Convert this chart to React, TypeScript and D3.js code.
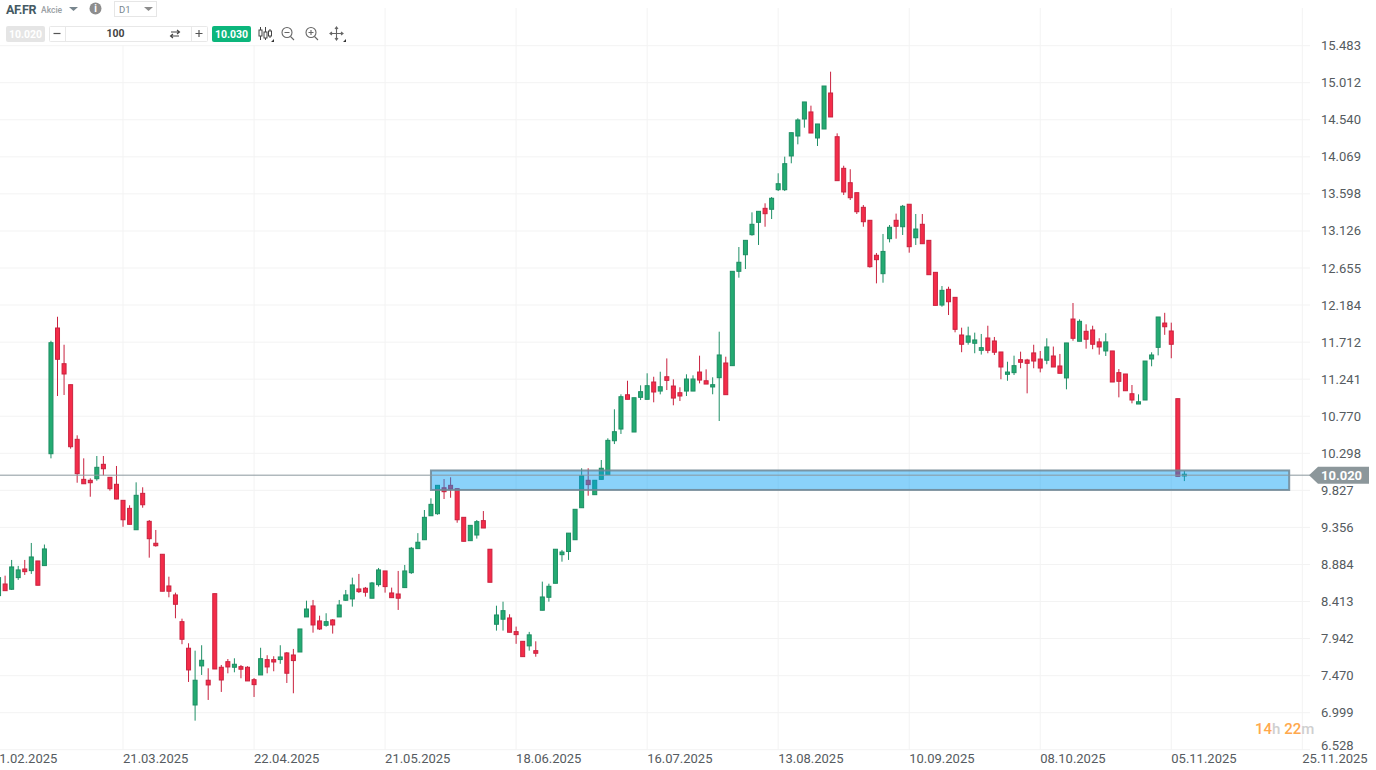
import React from "react";
import * as d3 from "d3";

const opens = [
  8.488,8.636,8.569,8.717,8.827,8.806,8.929,8.870,10.293,11.892,
  11.438,11.171,10.476,9.967,9.955,9.975,10.158,9.993,9.904,9.700,
  9.598,9.326,9.789,9.433,9.154,9.014,8.611,8.497,8.157,7.819,
  7.097,7.594,7.412,8.513,7.577,7.648,7.577,7.585,7.577,7.419,
  7.479,7.674,7.674,7.675,7.759,7.733,7.771,8.217,8.357,8.166,
  8.111,8.179,8.217,8.429,8.446,8.573,8.582,8.455,8.628,8.802,
  8.522,8.509,8.590,8.780,9.086,9.199,9.504,9.530,9.860,9.891,
  9.848,9.484,9.187,9.259,9.442,9.078,8.124,8.188,8.204,8.030,
  7.907,7.849,7.788,8.302,8.467,8.645,9.009,9.049,9.199,9.606,
  9.955,9.772,9.967,10.026,10.458,10.607,11.043,10.569,11.010,10.985,
  11.205,11.090,11.272,11.154,11.069,11.090,11.090,11.332,11.221,11.142,
  11.260,11.447,11.413,12.613,12.824,13.079,13.236,13.414,13.402,13.651,
  13.651,14.080,14.334,14.550,14.640,14.309,14.423,14.881,14.325,13.923,
  13.740,13.613,13.427,13.262,12.817,12.583,13.028,13.262,13.180,13.466,
  13.040,13.211,13.007,12.600,12.184,12.384,12.282,11.803,11.711,11.698,
  11.608,11.765,11.727,11.587,11.303,11.324,11.489,11.485,11.575,11.497,
  11.482,11.536,11.409,11.257,12.006,11.723,11.850,11.867,11.715,11.600,
  11.600,11.324,11.307,11.056,10.925,10.976,11.498,11.646,11.955,11.854,10.993,10.010,
];
const highs = [
  8.74,8.742,8.942,8.866,8.942,9.158,8.929,9.138,11.730,12.035,
  11.679,11.171,10.527,10.234,9.980,10.264,10.264,9.993,10.137,9.700,
  9.637,9.929,9.866,9.450,9.323,9.014,8.729,8.526,8.195,7.882,
  7.788,7.857,7.564,8.513,7.606,7.682,7.691,7.606,7.590,7.44,
  7.825,7.730,7.717,7.857,7.77,7.810,8.064,8.424,8.433,8.233,
  8.264,8.19,8.433,8.560,8.717,8.764,8.598,8.662,8.840,8.802,
  8.590,8.802,8.878,9.107,9.283,9.577,9.726,9.891,9.971,9.993,
  9.848,9.484,9.382,9.45,9.564,9.078,8.360,8.411,8.251,8.094,
  7.907,8.027,7.907,8.666,8.640,9.078,9.069,9.283,9.586,10.108,
  10.108,9.955,10.213,10.489,10.858,11.048,11.221,11.005,11.163,11.316,
  11.272,11.336,11.505,11.239,11.138,11.303,11.290,11.540,11.366,11.265,
  11.845,11.527,12.613,12.922,13.007,13.363,13.376,13.478,13.558,13.860,
  14.071,14.376,14.559,14.767,14.720,14.487,14.970,15.152,14.368,13.956,
  13.911,13.613,13.456,13.262,12.846,13.088,13.202,13.347,13.457,13.466,
  13.342,13.342,13.007,12.600,12.426,12.417,12.282,11.896,11.909,11.833,
  11.816,11.921,11.778,11.587,11.463,11.540,11.591,11.50,11.679,11.600,
  11.761,11.656,11.562,11.702,12.210,12.002,11.939,11.921,11.762,11.826,
  11.600,11.370,11.307,11.167,11.048,11.472,11.583,12.032,12.085,11.960,10.993,10.073,
];
const lows = [
  8.46,8.551,8.56,8.688,8.751,8.764,8.620,8.870,10.234,11.027,
  11.040,10.357,9.924,9.911,9.746,9.950,10.018,9.823,9.713,9.364,
  9.395,9.326,9.606,8.971,9.111,8.544,8.467,8.200,7.870,7.390,
  6.898,7.479,7.161,7.555,7.263,7.500,7.513,7.437,7.403,7.199,
  7.479,7.500,7.526,7.621,7.377,7.246,7.771,8.217,8.017,8.051,
  8.094,8.005,8.217,8.42,8.348,8.522,8.475,8.455,8.603,8.526,
  8.462,8.306,8.590,8.764,9.086,9.199,9.504,9.517,9.717,9.733,
  9.415,9.179,9.187,9.213,9.348,8.658,8.043,8.043,8.022,7.875,
  7.712,7.788,7.711,8.302,8.411,8.645,8.920,8.942,9.199,9.606,
  9.759,9.772,9.967,10.026,10.416,10.544,10.985,10.569,10.976,10.985,
  10.947,11.048,11.103,10.909,10.963,11.027,11.090,11.188,11.179,11.049,
  10.709,11.044,11.413,12.532,12.642,13.066,12.948,13.180,13.278,13.634,
  13.634,13.987,14.228,14.440,14.372,14.207,14.423,14.576,13.766,13.584,
  13.520,13.342,13.180,12.659,12.460,12.468,12.981,13.028,13.075,12.850,
  12.948,12.964,12.570,12.180,12.163,12.057,11.837,11.584,11.68,11.571,
  11.554,11.571,11.549,11.240,11.221,11.294,11.380,11.061,11.380,11.328,
  11.431,11.396,11.316,11.112,11.730,11.723,11.629,11.622,11.553,11.536,
  11.205,11.010,11.094,10.934,10.925,10.976,11.405,11.544,11.805,11.507,10.006,9.945,
];
const closes = [
  8.717,8.551,8.853,8.815,8.793,8.980,8.620,9.082,11.705,11.494,
  11.307,10.382,10.039,9.911,9.924,10.120,10.102,9.848,9.717,9.453,
  9.395,9.764,9.644,9.212,9.123,8.544,8.544,8.378,7.933,7.543,
  7.412,7.666,7.352,7.555,7.415,7.581,7.615,7.552,7.403,7.356,
  7.686,7.581,7.644,7.708,7.501,7.662,8.064,8.318,8.115,8.064,
  8.157,8.115,8.369,8.497,8.624,8.539,8.531,8.649,8.815,8.603,
  8.462,8.455,8.802,9.091,9.167,9.484,9.649,9.891,9.810,9.844,
  9.453,9.179,9.382,9.429,9.348,8.658,8.242,8.297,8.022,7.992,
  7.712,7.989,7.755,8.471,8.607,9.078,9.043,9.283,9.586,10.013,
  9.900,9.955,10.108,10.463,10.573,11.018,10.985,11.005,11.082,11.158,
  11.078,11.145,11.226,11.001,11.027,11.243,11.243,11.230,11.179,11.171,
  11.549,11.044,12.613,12.728,13.007,13.211,13.376,13.346,13.542,13.727,
  13.982,14.376,14.538,14.767,14.372,14.487,14.970,14.576,13.766,13.622,
  13.549,13.371,13.244,12.672,12.761,12.866,13.173,13.186,13.440,12.926,
  13.151,12.964,12.570,12.180,12.371,12.226,11.875,11.685,11.791,11.740,
  11.642,11.608,11.584,11.396,11.332,11.413,11.456,11.443,11.472,11.383,
  11.651,11.396,11.316,11.702,11.761,11.977,11.749,11.685,11.651,11.715,
  11.205,11.214,11.094,10.976,10.954,11.472,11.549,12.032,11.908,11.685,10.006,10.032,
];
const priceTicks = [15.483,15.012,14.540,14.069,13.598,13.126,12.655,12.184,11.712,11.241,10.770,10.298,9.827,9.356,8.884,8.413,7.942,7.470,6.999,6.528];
const dateTicks = ["21.02.2025","21.03.2025","22.04.2025","21.05.2025","18.06.2025","16.07.2025","13.08.2025","10.09.2025","08.10.2025","05.11.2025","25.11.2025"];
const firstCandleOffset = 1;
const sessionsPerDateTick = 20;
const zone = { fromSession: 67, toSession: 198, top: 10.08, bottom: 9.832 };
const lastPrice = 10.02;

const x = d3.scaleLinear().domain([0, 200]).range([-8, 1302.3]);
const y = d3.scaleLinear().domain([15.012, 6.999]).range([82.7, 712.7]);
const FONT = "Roboto, sans-serif";
const BODY = 4;

const Candle = ({ i }: { i: number }) => {
  const cx = x(i + firstCandleOffset);
  const up = closes[i] >= opens[i];
  const top = y(Math.max(opens[i], closes[i]));
  const bottom = y(Math.min(opens[i], closes[i]));
  return (
    <g>
      <line x1={cx} x2={cx} y1={y(highs[i])} y2={y(lows[i])} stroke={up ? "#1f8f66" : "#c9223f"} strokeWidth={1} />
      <rect x={cx - BODY / 2} width={BODY} y={top} height={Math.max(bottom - top, 1)}
        fill={up ? "#24ab72" : "#f42c49"} stroke={up ? "#1d8d63" : "#c9223f"} strokeWidth={1} />
    </g>
  );
};

const Toolbar = () => (
  <g fontFamily={FONT}>
    <rect x={0} y={0} width={345} height={45} fill="#fff" />
    <text x={6} y={14} fontSize={12.5} fontWeight={700} fill="#455a64" letterSpacing={-0.4}>AF.FR</text>
    <text x={41} y={13} fontSize={8.5} fontWeight={500} fill="#9aa0a4">Akcie</text>
    <path d="M69,7 L78,7 L73.5,11 Z" fill="#78868e" />
    <circle cx={95.5} cy={8.5} r={6} fill="#8d8d8d" />
    <text x={95.5} y={12} fontSize={10} fontWeight={700} fill="#fff" textAnchor="middle">i</text>
    <rect x={114.5} y={1.5} width={42} height={15} fill="#fff" stroke="#e6e6e6" />
    <text x={119} y={13} fontSize={9.5} fill="#78868e">D1</text>
    <path d="M144,7 L153,7 L148.5,11 Z" fill="#8d8d8d" />
    <rect x={6} y={26} width={39} height={16} rx={2} fill="#e5e5e5" />
    <text x={25.5} y={37.5} fontSize={10.5} fontWeight={700} fill="#fff" textAnchor="middle">10.020</text>
    <rect x={49.5} y={26.5} width={158} height={15} rx={1} fill="#fff" stroke="#e8e8e8" />
    <line x1={65.5} x2={65.5} y1={27} y2={41} stroke="#e8e8e8" />
    <line x1={191.5} x2={191.5} y1={27} y2={41} stroke="#e8e8e8" />
    <line x1={53.5} x2={60.5} y1={33.5} y2={33.5} stroke="#555" strokeWidth={1.2} />
    <text x={115.5} y={37} fontSize={10.5} fontWeight={700} fill="#444" textAnchor="middle">100</text>
    <g stroke="#444" strokeWidth={1.1} fill="none">
      <path d="M171,32 H179 M177,30 L179.5,32 L177,34" />
      <path d="M179,36 H171 M173,34 L170.5,36 L173,38" />
      <path d="M195.5,33.5 H202.5 M199,30 V37" strokeWidth={1.2} stroke="#555" />
    </g>
    <rect x={212} y={26} width={39} height={16} rx={2} fill="#0cb67c" />
    <text x={231.5} y={37.5} fontSize={10.5} fontWeight={700} fill="#fff" textAnchor="middle">10.030</text>
    <g stroke="#444" fill="none" strokeWidth={1}>
      <path d="M260.5,27 V40 M265.5,27 V40 M270,29 V38" />
      <rect x={259} y={30} width={3} height={6} fill="#fff" />
      <rect x={264} y={32} width={3} height={6} fill="#fff" />
      <rect x={268.5} y={31} width={3} height={5} fill="#fff" />
    </g>
    <g stroke="#666" fill="none" strokeWidth={1.1}>
      <circle cx={287} cy={32.5} r={5} />
      <path d="M284.5,32.5 H289.5 M290.5,36.5 L294,40" />
      <circle cx={311} cy={32.5} r={5} />
      <path d="M308.5,32.5 H313.5 M311,30 V35 M314.5,36.5 L318,40" />
      <path d="M336.5,27 V40 M330,33.5 H343 M335,29 L336.5,27 L338,29 M335,38 L336.5,40 L338,38 M332,32 L330,33.5 L332,35 M341,32 L343,33.5 L341,35" />
    </g>
    <path d="M271,42 L274,42 L274,39 Z M343,42 L346,42 L346,39 Z" fill="#333" />
  </g>
);

export default function App() {
  const pillY = y(lastPrice);
  return (
    <svg width={1376} height={770} style={{ position: "absolute", left: 0, top: 0, display: "block", background: "#fff" }}>
      {priceTicks.map((p) => (
        <line key={p} x1={0} x2={1310} y1={y(p)} y2={y(p)} stroke="#f3f3f3" strokeWidth={1} />
      ))}
      {dateTicks.map((d, i) => (
        <line key={d} x1={x(i * sessionsPerDateTick)} x2={x(i * sessionsPerDateTick)} y1={8} y2={750} stroke="#f3f3f3" strokeWidth={1} />
      ))}
      {opens.map((_, i) => <Candle key={i} i={i} />)}
      <rect x={x(zone.fromSession)} width={x(zone.toSession) - x(zone.fromSession)} y={y(zone.top)} height={y(zone.bottom) - y(zone.top)}
        fill="#009df4" fillOpacity={0.46} stroke="#6f8694" strokeOpacity={0.85} strokeWidth={2} />
      <line x1={0} x2={1312} y1={pillY} y2={pillY} stroke="#8a979e" strokeWidth={1} />
      <Toolbar />
      <g fontFamily={FONT} fontSize={13} fill="#555b60" dominantBaseline="central">
        {priceTicks.map((p, i) => (
          <text key={p} x={1321} y={i === priceTicks.length - 1 ? y(p) - 4 : y(p)}>{p.toFixed(3)}</text>
        ))}
      </g>
      <path d={`M1309,${pillY} L1318,${pillY - 8.5} H1369 V${pillY + 8.5} H1318 Z`} fill="#8c979b" />
      <text x={1321} y={pillY} fontFamily={FONT} fontSize={13} fontWeight={700} fill="#fff" dominantBaseline="central">{lastPrice.toFixed(3)}</text>
      <g fontFamily={FONT} fontSize={13} fill="#555b60" dominantBaseline="central">
        {dateTicks.map((d, i) => (
          <text key={d} x={x(i * sessionsPerDateTick)} y={758}>{d}</text>
        ))}
      </g>
      <text x={1255} y={729} fontFamily={FONT} fontSize={15} fontWeight={500} dominantBaseline="central">
        <tspan fill="#ffa94d">14</tspan><tspan fill="#cfcfcf">h </tspan><tspan fill="#ffa94d">22</tspan><tspan fill="#cfcfcf">m</tspan>
      </text>
    </svg>
  );
}
